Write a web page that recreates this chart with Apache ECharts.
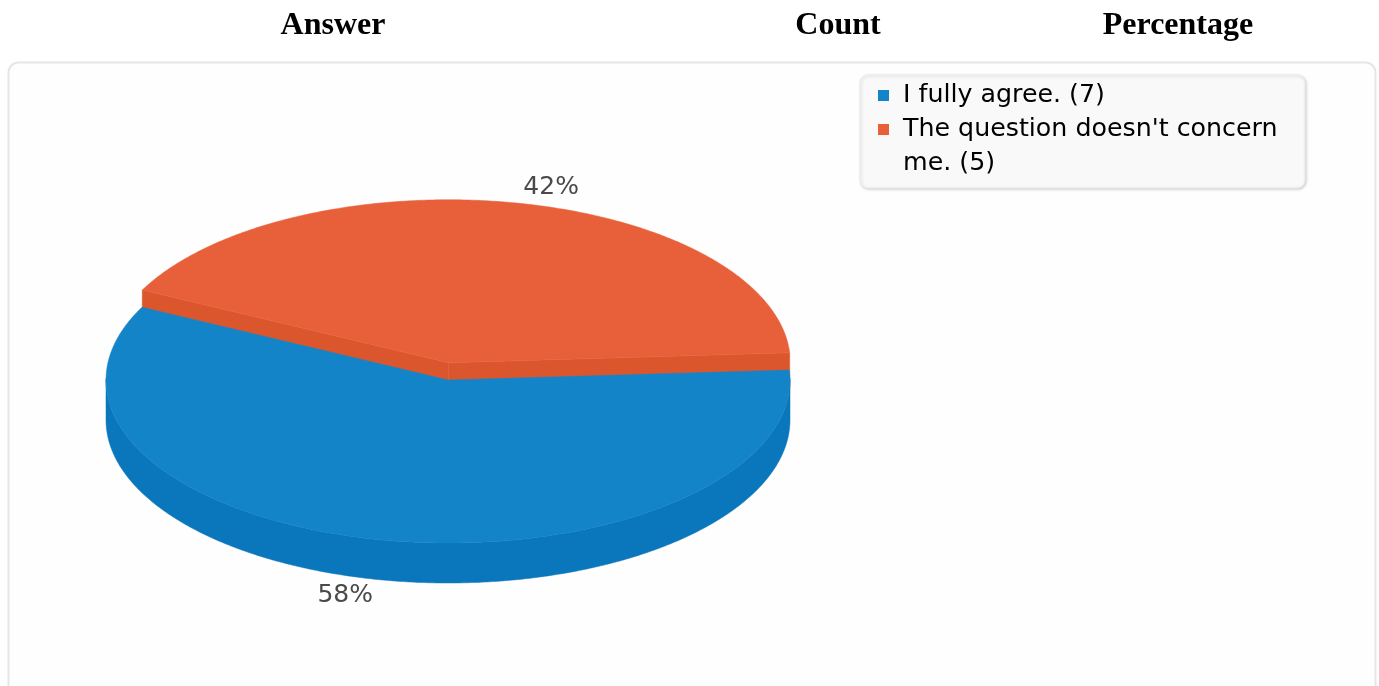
<!DOCTYPE html>
<html><head><meta charset="utf-8">
<script src="https://cdn.jsdelivr.net/npm/echarts@6/dist/echarts.min.js"></script>
<style>html,body{margin:0;padding:0;background:#fff;}#chart{width:1379px;height:686px;}</style>
</head><body><div id="chart"></div>
<script>
// ---- data ----
const headers = ['Answer', 'Count', 'Percentage'];
const categories = ['I fully agree.', "The question doesn't concern me."];
const counts = [7, 5];
const percentLabels = ['58%', '42%'];
const explodedFlags = [false, true];

// ---- styles / layout ----
const topColors = ['#1484c9', '#e8603a'];
const sideColors = ['#0a76bb', '#dc562d'];
const headerX = [333, 838, 1178];
const PIE = { cx: 448, cy: 380, rx: 342, ry: 163, depth: 40, startAngle: 3.5, explodeX: 0.005, explodeY: 0.108, labelR: 1.1 };
const LEG = { x: 860, y: 75, w: 445, h: 113, textX: 903, firstY: 95, lineH: 34, font: '25.3px "DejaVu Sans"', textW: 392 };

const total = counts.reduce((a, b) => a + b, 0);
const DEG = Math.PI / 180;

function renderItem(params, api) {
  const i = params.dataIndex;
  const v = api.value(0);
  let before = 0;
  for (let k = 0; k < i; k++) before += counts[k];
  const hi = PIE.startAngle - before / total * 360;
  const lo = hi - v / total * 360;
  const mid = (lo + hi) / 2;
  const ex = explodedFlags[i] ? PIE.explodeX : 0;
  const ey = explodedFlags[i] ? PIE.explodeY : 0;
  const cx = PIE.cx + PIE.rx * ex * Math.cos(mid * DEG);
  const cy = PIE.cy - PIE.ry * ey * Math.sin(mid * DEG);
  const D = PIE.depth;
  const P = (a, dy) => [cx + PIE.rx * Math.cos(a * DEG), cy - PIE.ry * Math.sin(a * DEG) + (dy || 0)];
  const base = Math.round((1 - Math.sin(mid * DEG)) * 100) * 10;
  const n = Math.max(2, Math.ceil((hi - lo) / 0.5));
  const angs = [];
  for (let k = 0; k <= n; k++) angs.push(lo + (hi - lo) * k / n);
  const children = [];
  // outer wall (front-facing parts)
  const segs = []; let seg = [];
  angs.forEach(a => {
    if (Math.sin(a * DEG) <= 0.01) seg.push(a);
    else { if (seg.length > 1) segs.push(seg); seg = []; }
  });
  if (seg.length > 1) segs.push(seg);
  segs.forEach(s => {
    const pts = s.map(a => P(a)).concat(s.slice().reverse().map(a => P(a, D)));
    children.push({ type: 'polygon', z2: base + 1, shape: { points: pts },
      style: { fill: sideColors[i], stroke: sideColors[i], lineWidth: 0.5 } });
  });
  // radial cut faces
  if (Math.cos(lo * DEG) > 0) {
    children.push({ type: 'polygon', z2: base + 2, shape: { points: [[cx, cy], P(lo), P(lo, D), [cx, cy + D]] },
      style: { fill: sideColors[i], stroke: sideColors[i], lineWidth: 0.5 } });
  }
  if (Math.cos(hi * DEG) < 0) {
    children.push({ type: 'polygon', z2: base + 2, shape: { points: [[cx, cy], P(hi), P(hi, D), [cx, cy + D]] },
      style: { fill: sideColors[i], stroke: sideColors[i], lineWidth: 0.5 } });
  }
  // top face
  children.push({ type: 'polygon', z2: base + 3, shape: { points: [[cx, cy]].concat(angs.map(a => P(a))) },
    style: { fill: topColors[i], stroke: topColors[i], lineWidth: 0.5 } });
  // label
  const c = Math.cos(mid * DEG), s = Math.sin(mid * DEG);
  children.push({ type: 'text', z2: 5000,
    x: cx + PIE.rx * PIE.labelR * c,
    y: cy - PIE.ry * PIE.labelR * s + (s < 0 ? D : 0),
    style: { text: percentLabels[i], fill: '#4a4a4a', font: '25px "DejaVu Sans"',
      align: c > 0 ? 'left' : 'right', verticalAlign: 'middle' } });
  return { type: 'group', children };
}

// ---- legend (wrapped text measured on canvas) ----
const ctx = document.createElement('canvas').getContext('2d');
ctx.font = LEG.font;
function wrap(str) {
  const words = str.split(' '); const lines = []; let cur = '';
  words.forEach(w => {
    const t = cur ? cur + ' ' + w : w;
    if (ctx.measureText(t).width > LEG.textW && cur) { lines.push(cur); cur = w; } else cur = t;
  });
  if (cur) lines.push(cur);
  return lines;
}
const graphics = [];
// panel
graphics.push({ type: 'rect', shape: { x: 8.5, y: 62.5, width: 1367, height: 700, r: 10 },
  style: { fill: '#fefefe', stroke: '#e6e6e6', lineWidth: 2 }, z: -10 });
// headers
headers.forEach((h, k) => graphics.push({ type: 'text', x: headerX[k], y: 26,
  style: { text: h, font: 'bold 32px "Liberation Serif"', fill: '#000', align: 'center', verticalAlign: 'middle' }, z: 10 }));
// legend box
graphics.push({ type: 'rect', shape: { x: LEG.x, y: LEG.y, width: LEG.w, height: LEG.h, r: 8 },
  style: { fill: '#f9f9f9', stroke: '#ececec', lineWidth: 1, shadowBlur: 3, shadowOffsetX: 1, shadowOffsetY: 1, shadowColor: 'rgba(0,0,0,0.18)' }, z: 5 });
let lineIdx = 0;
categories.forEach((cat, i) => {
  const lines = wrap(cat + ' (' + counts[i] + ')');
  const y0 = LEG.firstY + lineIdx * LEG.lineH;
  graphics.push({ type: 'rect', shape: { x: 878, y: y0 - 5, width: 11, height: 11 }, style: { fill: topColors[i] }, z: 6 });
  lines.forEach((ln, j) => graphics.push({ type: 'text', x: LEG.textX, y: y0 + j * LEG.lineH,
    style: { text: ln, font: LEG.font, fill: '#000', align: 'left', verticalAlign: 'middle' }, z: 6 }));
  lineIdx += lines.length;
});

const chart = echarts.init(document.getElementById('chart'), null, { renderer: 'canvas' });
chart.setOption({
  animation: false,
  backgroundColor: '#ffffff',
  graphic: graphics,
  series: [{
    type: 'custom', coordinateSystem: 'none', silent: true, z: 2,
    renderItem,
    data: counts.map((c, i) => ({ name: categories[i], value: [c] }))
  }]
});
</script></body></html>
